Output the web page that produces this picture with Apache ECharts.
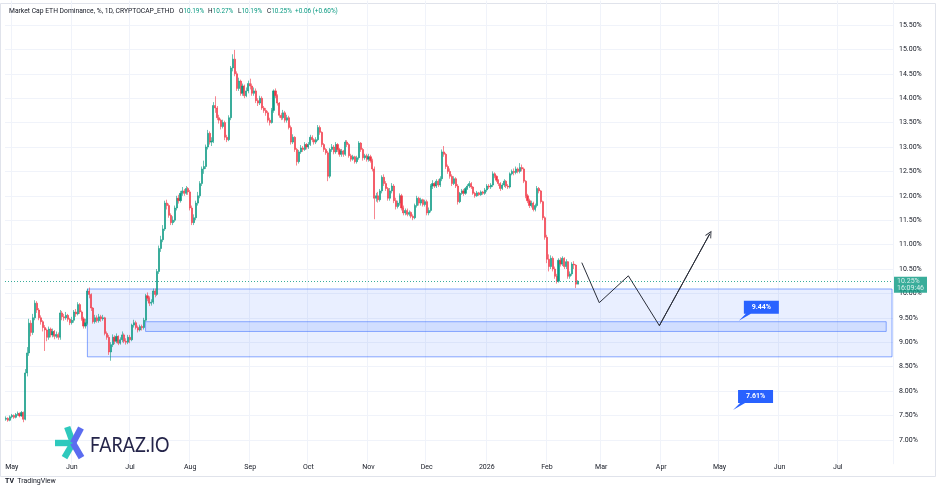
<!DOCTYPE html>
<html>
<head>
<meta charset="utf-8">
<title>Market Cap ETH Dominance</title>
<script src="https://cdn.jsdelivr.net/npm/echarts@6/dist/echarts.min.js"></script>
<style>
  html, body { margin: 0; padding: 0; background: #fff; }
  #chart { width: 936px; height: 492px; }
</style>
</head>
<body>
<div id="chart"></div>
<script>
// daily candles 2025-04-28 .. 2026-02-17, axis runs on to 2026-07-29
const firstDay = "2025-04-28";
const lastAxisDay = "2026-07-29";
const monthNames = ["Jan", "Feb", "Mar", "Apr", "May", "Jun", "Jul", "Aug", "Sep", "Oct", "Nov", "Dec"];

const openVals = [
  7.42, 7.44, 7.40,
  7.47, 7.50, 7.46, 7.52, 7.54, 7.49, 7.56, 7.42, 8.37, 8.78, 9.39, 9.20, 9.50, 9.80, 9.66, 9.50, 9.42, 9.30, 9.25, 9.10, 9.27, 9.15, 9.22, 9.12, 9.16, 9.10, 9.60, 9.52, 9.50, 9.55, 9.47,
  9.40, 9.45, 9.62, 9.58, 9.77, 9.62, 9.48, 9.33, 9.40, 10.05, 9.98, 9.70, 9.42, 9.50, 9.44, 9.52, 9.48, 9.50, 9.18, 9.10, 8.80, 8.95, 9.10, 9.02, 9.12, 8.98, 9.05, 9.15, 9.02, 9.00,
  9.10, 9.05, 9.35, 9.40, 9.30, 9.25, 9.32, 9.30, 9.45, 9.95, 9.90, 9.80, 9.82, 10.05, 9.98, 10.45, 10.92, 11.10, 11.32, 11.85, 11.80, 11.60, 11.45, 11.50, 11.75, 11.95, 11.90, 12.05, 12.10, 12.05, 12.15,
  12.08, 11.75, 11.45, 11.55, 11.85, 12.00, 12.25, 12.55, 12.60, 13.00, 13.28, 13.10, 13.12, 13.85, 13.80, 13.60, 13.55, 13.42, 13.50, 13.20, 13.15, 13.60, 14.62, 14.80, 14.50, 14.20, 14.35, 14.10, 14.25, 14.05, 14.15,
  14.30, 14.25, 14.10, 14.15, 13.95, 13.90, 14.00, 13.80, 13.75, 13.70, 13.55, 13.50, 13.75, 14.15, 14.05, 13.90, 13.65, 13.60, 13.70, 13.55, 13.60, 13.40, 13.10, 13.20, 12.95, 12.70, 12.90, 12.98, 12.95, 13.05,
  13.00, 13.05, 13.20, 13.15, 13.10, 13.15, 13.40, 13.30, 13.05, 12.95, 12.88, 12.40, 12.95, 13.00, 12.90, 13.05, 12.95, 12.85, 12.92, 12.85, 13.10, 13.05, 12.82, 12.75, 12.80, 12.70, 12.78, 13.08, 12.95, 12.78, 12.82,
  12.75, 12.80, 12.72, 12.55, 11.95, 12.00, 11.92, 12.10, 12.38, 12.25, 12.15, 11.95, 12.10, 12.20, 11.90, 11.78, 11.85, 12.00, 11.75, 11.65, 11.70, 11.62, 11.66, 11.58, 11.55, 11.80, 11.95, 11.85, 11.92, 11.82,
  11.88, 11.65, 11.70, 12.20, 12.25, 12.20, 12.30, 12.22, 12.35, 12.90, 12.85, 12.60, 12.50, 12.40, 12.25, 12.35, 12.20, 11.88, 12.05, 12.10, 12.05, 12.15, 12.20, 12.25, 12.18, 12.05, 12.00, 12.06, 12.02, 12.08, 12.05,
  12.12, 12.20, 12.18, 12.22, 12.45, 12.40, 12.32, 12.25, 12.15, 12.22, 12.30, 12.20, 12.18, 12.45, 12.50, 12.48, 12.55, 12.50, 12.58, 12.55, 12.30, 12.00, 11.90, 11.80, 11.85, 11.72, 11.80, 12.15, 12.10, 11.88, 11.55,
  11.15, 10.70, 10.55, 10.72, 10.50, 10.35, 10.25, 10.68, 10.60, 10.72, 10.55, 10.65, 10.35, 10.40, 10.60, 10.58, 10.19
];
const closeVals = [
  7.44, 7.40, 7.47,
  7.50, 7.46, 7.52, 7.54, 7.49, 7.56, 7.42, 8.37, 8.78, 9.39, 9.20, 9.50, 9.80, 9.66, 9.50, 9.42, 9.30, 9.25, 9.10, 9.27, 9.15, 9.22, 9.12, 9.16, 9.10, 9.60, 9.52, 9.50, 9.55, 9.47, 9.40,
  9.45, 9.62, 9.58, 9.77, 9.62, 9.48, 9.33, 9.40, 10.05, 9.98, 9.70, 9.42, 9.50, 9.44, 9.52, 9.48, 9.50, 9.18, 9.10, 8.80, 8.95, 9.10, 9.02, 9.12, 8.98, 9.05, 9.15, 9.02, 9.00, 9.10,
  9.05, 9.35, 9.40, 9.30, 9.25, 9.32, 9.30, 9.45, 9.95, 9.90, 9.80, 9.82, 10.05, 9.98, 10.45, 10.92, 11.10, 11.32, 11.85, 11.80, 11.60, 11.45, 11.50, 11.75, 11.95, 11.90, 12.05, 12.10, 12.05, 12.15, 12.08,
  11.75, 11.45, 11.55, 11.85, 12.00, 12.25, 12.55, 12.60, 13.00, 13.28, 13.10, 13.12, 13.85, 13.80, 13.60, 13.55, 13.42, 13.50, 13.20, 13.15, 13.60, 14.62, 14.80, 14.50, 14.20, 14.35, 14.10, 14.25, 14.05, 14.15, 14.30,
  14.25, 14.10, 14.15, 13.95, 13.90, 14.00, 13.80, 13.75, 13.70, 13.55, 13.50, 13.75, 14.15, 14.05, 13.90, 13.65, 13.60, 13.70, 13.55, 13.60, 13.40, 13.10, 13.20, 12.95, 12.70, 12.90, 12.98, 12.95, 13.05, 13.00,
  13.05, 13.20, 13.15, 13.10, 13.15, 13.40, 13.30, 13.05, 12.95, 12.88, 12.40, 12.95, 13.00, 12.90, 13.05, 12.95, 12.85, 12.92, 12.85, 13.10, 13.05, 12.82, 12.75, 12.80, 12.70, 12.78, 13.08, 12.95, 12.78, 12.82, 12.75,
  12.80, 12.72, 12.55, 11.95, 12.00, 11.92, 12.10, 12.38, 12.25, 12.15, 11.95, 12.10, 12.20, 11.90, 11.78, 11.85, 12.00, 11.75, 11.65, 11.70, 11.62, 11.66, 11.58, 11.55, 11.80, 11.95, 11.85, 11.92, 11.82, 11.88,
  11.65, 11.70, 12.20, 12.25, 12.20, 12.30, 12.22, 12.35, 12.90, 12.85, 12.60, 12.50, 12.40, 12.25, 12.35, 12.20, 11.88, 12.05, 12.10, 12.05, 12.15, 12.20, 12.25, 12.18, 12.05, 12.00, 12.06, 12.02, 12.08, 12.05, 12.12,
  12.20, 12.18, 12.22, 12.45, 12.40, 12.32, 12.25, 12.15, 12.22, 12.30, 12.20, 12.18, 12.45, 12.50, 12.48, 12.55, 12.50, 12.58, 12.55, 12.30, 12.00, 11.90, 11.80, 11.85, 11.72, 11.80, 12.15, 12.10, 11.88, 11.55, 11.15,
  10.70, 10.55, 10.72, 10.50, 10.35, 10.25, 10.68, 10.60, 10.72, 10.55, 10.65, 10.35, 10.40, 10.60, 10.58, 10.19, 10.25
];
const lowVals = [
  7.39, 7.37, 7.38,
  7.44, 7.43, 7.44, 7.49, 7.46, 7.47, 7.36, 7.40, 8.30, 8.72, 9.12, 9.15, 9.45, 9.60, 9.45, 9.36, 9.22, 8.82, 9.02, 9.05, 9.10, 9.10, 9.06, 9.08, 9.05, 9.05, 9.45, 9.44, 9.46, 9.42, 9.35,
  9.36, 9.40, 9.52, 9.55, 9.58, 9.44, 9.28, 9.28, 9.36, 9.90, 9.64, 9.38, 9.38, 9.40, 9.40, 9.42, 9.44, 9.14, 9.05, 8.74, 8.62, 8.90, 8.96, 8.98, 8.94, 8.95, 9.00, 8.98, 8.95, 8.96,
  8.98, 9.02, 9.30, 9.26, 9.20, 9.22, 9.24, 9.26, 9.42, 9.84, 9.74, 9.75, 9.78, 9.92, 9.95, 10.40, 10.85, 11.05, 11.28, 11.72, 11.55, 11.40, 11.40, 11.46, 11.70, 11.84, 11.86, 12.00, 12.00, 12.02, 12.02,
  11.70, 11.40, 11.40, 11.50, 11.80, 11.95, 12.20, 12.45, 12.55, 12.95, 13.05, 13.02, 13.08, 13.70, 13.55, 13.48, 13.36, 13.38, 13.14, 13.10, 13.12, 13.55, 14.55, 14.45, 14.15, 14.15, 14.05, 14.05, 14.00, 14.02, 14.10,
  14.18, 14.05, 14.05, 13.90, 13.84, 13.86, 13.76, 13.70, 13.64, 13.50, 13.44, 13.48, 13.70, 14.00, 13.85, 13.60, 13.55, 13.56, 13.50, 13.50, 13.36, 13.05, 13.06, 12.90, 12.62, 12.66, 12.86, 12.90, 12.92, 12.95,
  12.96, 13.02, 13.10, 13.05, 13.06, 13.12, 13.25, 13.00, 12.90, 12.84, 12.30, 12.36, 12.90, 12.85, 12.86, 12.90, 12.80, 12.80, 12.80, 12.82, 13.00, 12.78, 12.70, 12.72, 12.66, 12.66, 12.74, 12.90, 12.72, 12.74, 12.70,
  12.70, 12.68, 12.50, 11.52, 11.88, 11.86, 11.88, 12.05, 12.20, 12.10, 11.90, 11.90, 12.05, 11.85, 11.72, 11.74, 11.80, 11.70, 11.60, 11.60, 11.58, 11.58, 11.54, 11.50, 11.52, 11.76, 11.80, 11.80, 11.78, 11.78,
  11.60, 11.60, 11.66, 12.14, 12.16, 12.16, 12.18, 12.18, 12.30, 12.80, 12.55, 12.45, 12.35, 12.20, 12.22, 12.16, 11.82, 11.85, 12.02, 12.00, 12.02, 12.12, 12.16, 12.14, 12.02, 11.96, 11.98, 12.00, 12.00, 12.02, 12.02,
  12.08, 12.14, 12.14, 12.18, 12.36, 12.28, 12.20, 12.10, 12.12, 12.18, 12.16, 12.14, 12.15, 12.42, 12.42, 12.44, 12.46, 12.46, 12.50, 12.26, 11.95, 11.85, 11.75, 11.76, 11.68, 11.68, 11.76, 12.05, 11.84, 11.50, 11.10,
  10.62, 10.45, 10.50, 10.45, 10.30, 10.20, 10.22, 10.55, 10.56, 10.50, 10.50, 10.30, 10.30, 10.36, 10.50, 10.11, 10.19
];
const highVals = [
  7.48, 7.46, 7.50,
  7.53, 7.52, 7.55, 7.58, 7.56, 7.59, 7.58, 8.45, 8.90, 9.48, 9.45, 9.58, 9.86, 9.84, 9.70, 9.55, 9.45, 9.35, 9.28, 9.32, 9.30, 9.28, 9.25, 9.22, 9.20, 9.66, 9.64, 9.58, 9.62, 9.58, 9.50,
  9.52, 9.66, 9.68, 9.82, 9.80, 9.65, 9.52, 9.48, 10.10, 10.12, 10.00, 9.72, 9.56, 9.55, 9.58, 9.56, 9.56, 9.52, 9.22, 9.15, 9.00, 9.16, 9.14, 9.18, 9.14, 9.10, 9.22, 9.18, 9.08, 9.15,
  9.15, 9.38, 9.46, 9.44, 9.34, 9.36, 9.36, 9.50, 9.99, 10.02, 9.94, 9.88, 10.10, 10.10, 10.50, 10.98, 11.18, 11.40, 11.90, 11.92, 11.84, 11.64, 11.58, 11.80, 12.00, 12.02, 12.10, 12.18, 12.14, 12.20, 12.18,
  12.12, 11.80, 11.62, 11.90, 12.08, 12.30, 12.60, 12.72, 13.05, 13.35, 13.32, 13.20, 13.92, 14.04, 13.84, 13.66, 13.58, 13.56, 13.54, 13.25, 13.65, 14.66, 14.90, 14.99, 14.55, 14.42, 14.38, 14.30, 14.28, 14.22, 14.36,
  14.40, 14.30, 14.22, 14.20, 14.00, 14.05, 14.04, 13.84, 13.80, 13.74, 13.60, 13.80, 14.18, 14.20, 14.08, 13.92, 13.70, 13.76, 13.74, 13.66, 13.64, 13.44, 13.26, 13.22, 12.98, 12.94, 13.04, 13.02, 13.10, 13.08,
  13.10, 13.25, 13.24, 13.18, 13.20, 13.45, 13.44, 13.32, 13.08, 12.98, 12.92, 12.98, 13.06, 13.04, 13.10, 13.08, 12.98, 12.96, 12.94, 13.14, 13.14, 13.08, 12.86, 12.84, 12.82, 12.82, 13.12, 13.10, 12.98, 12.86, 12.86,
  12.86, 12.84, 12.76, 12.60, 12.06, 12.08, 12.14, 12.42, 12.44, 12.30, 12.18, 12.16, 12.26, 12.24, 11.96, 11.90, 12.05, 12.04, 11.80, 11.74, 11.74, 11.70, 11.68, 11.62, 11.84, 12.00, 11.98, 11.96, 11.94, 11.92,
  11.92, 11.76, 12.24, 12.32, 12.28, 12.34, 12.34, 12.40, 12.95, 13.02, 12.88, 12.64, 12.56, 12.44, 12.40, 12.38, 12.24, 12.08, 12.14, 12.14, 12.18, 12.24, 12.30, 12.28, 12.20, 12.08, 12.10, 12.08, 12.11, 12.10, 12.16,
  12.24, 12.24, 12.26, 12.50, 12.48, 12.42, 12.34, 12.28, 12.26, 12.34, 12.32, 12.24, 12.48, 12.54, 12.56, 12.60, 12.58, 12.67, 12.64, 12.58, 12.32, 12.04, 11.94, 11.90, 11.88, 11.84, 12.20, 12.18, 12.12, 11.90, 11.58,
  11.20, 10.80, 10.78, 10.76, 10.55, 10.40, 10.72, 10.74, 10.76, 10.74, 10.70, 10.66, 10.45, 10.64, 10.66, 10.60, 10.27
];

// projected path drawn on the chart
const pathDates = ["2026-02-19", "2026-02-28", "2026-03-15", "2026-03-31", "2026-04-26"];
const pathVals = [10.63, 9.81, 10.36, 9.34, 11.22];

// zones
const zoneOuter = { from: "2025-06-09", to: "2026-07-29", top: 10.09, bottom: 8.70 };
const zoneInner = { from: "2025-07-09", to: "2026-07-26", top: 9.42, bottom: 9.22 };

// price notes
const noteDates = ["2026-05-11", "2026-05-08"];
const noteVals = [9.44, 7.61];

const lastPrice = 10.25;
const countdown = "16:09:46";
const headerTitle = "Market Cap ETH Dominance, %, 1D, CRYPTOCAP_ETHD";
const headerChange = "+0.06 (+0.60%)";

const upColor = "#089981";
const downColor = "#f23645";
const textColor = "#131722";
const gridColor = "#f0f3fa";
const font = "Roboto, 'Noto Sans', sans-serif";

function buildDays(from, to) {
  const out = [];
  const d = new Date(from + "T00:00:00Z");
  const end = new Date(to + "T00:00:00Z");
  while (d <= end) {
    out.push(d.toISOString().slice(0, 10));
    d.setUTCDate(d.getUTCDate() + 1);
  }
  return out;
}
const days = buildDays(firstDay, lastAxisDay);
const candles = closeVals.map((c, i) => [openVals[i], c, lowVals[i], highVals[i]]);
const isMonthStart = (idx, v) => v.slice(8) === "01";

const n = closeVals.length - 1;
const pct = (v) => v.toFixed(2) + "%";

// header pieces (key, value, x)
const headerParts = [
  ["O", pct(openVals[n]), 179],
  ["H", pct(highVals[n]), 208],
  ["L", pct(lowVals[n]), 238],
  ["C", pct(closeVals[n]), 267],
  ["", headerChange, 295],
];
const headerRich = {
  h: { fontSize: 6.75, fontFamily: font, fill: textColor, color: textColor },
  t: { fontSize: 6.4, fontFamily: font, fill: textColor, color: textColor },
  v: { fontSize: 6.4, fontFamily: font, fill: upColor, color: upColor },
};

const chart = echarts.init(document.getElementById("chart"));
const option = {
  animation: false,
  backgroundColor: "#ffffff",
  grid: { left: 5, right: 43, top: 0.6, bottom: 27.8 },
  xAxis: {
    type: "category",
    data: days,
    boundaryGap: true,
    axisLine: { show: false },
    axisTick: { show: false },
    axisLabel: {
      interval: isMonthStart,
      color: textColor,
      fontSize: 7,
      fontFamily: font,
      margin: 0,
      formatter: (v) => (v.slice(5, 7) === "01" ? v.slice(0, 4) : monthNames[+v.slice(5, 7) - 1]),
    },
    splitLine: { show: true, interval: isMonthStart, lineStyle: { color: gridColor, width: 1 } },
  },
  yAxis: {
    type: "value",
    position: "right",
    min: 6.5,
    max: 16,
    interval: 0.5,
    axisLine: { show: false },
    axisTick: { show: false },
    axisLabel: {
      color: textColor,
      fontSize: 7,
      fontFamily: font,
      margin: 6,
      formatter: (v) => (v < 6.9 || v > 15.6 ? "" : pct(v)),
    },
    splitLine: { show: true, showMinLine: false, showMaxLine: false, lineStyle: { color: gridColor, width: 1 } },
  },
  series: [
    {
      type: "candlestick",
      data: candles,
      barWidth: 1.6,
      large: false,
      itemStyle: {
        color: upColor,
        color0: downColor,
        borderColor: upColor,
        borderColor0: downColor,
        borderWidth: 0.6,
      },
      markArea: {
        silent: true,
        data: [
          [
            {
              coord: [zoneOuter.from, zoneOuter.top],
              itemStyle: { color: "rgba(41,98,255,0.1)", borderColor: "rgba(41,98,255,0.55)", borderWidth: 1 },
            },
            { coord: [zoneOuter.to, zoneOuter.bottom] },
          ],
          [
            {
              coord: [zoneInner.from, zoneInner.top],
              itemStyle: { color: "rgba(41,98,255,0.12)", borderColor: "rgba(41,98,255,0.5)", borderWidth: 1 },
            },
            { coord: [zoneInner.to, zoneInner.bottom] },
          ],
        ],
      },
      markLine: {
        silent: true,
        symbol: "none",
        lineStyle: { color: upColor, type: [1, 2], width: 1, opacity: 0.8 },
        label: {
          position: "end",
          distance: 1,
          offset: [0, 3.5],
          formatter: pct(lastPrice) + "\n" + countdown,
          backgroundColor: upColor,
          color: "#fff",
          fontSize: 7,
          lineHeight: 7,
          fontFamily: font,
          padding: [1, 3, 1, 3],
          align: "left",
        },
        data: [{ yAxis: lastPrice }],
      },
      markPoint: {
        silent: true,
        symbol: "path://M5,0 L40,0 L40,13 L12,13 L0,20 L7,13 L5,13 Z",
        symbolSize: [40, 20],
        symbolKeepAspect: false,
        symbolOffset: [20, -10],
        itemStyle: { color: "#2962ff" },
        label: {
          show: true,
          position: "inside",
          offset: [2.5, -3.5],
          color: "#fff",
          fontSize: 7,
          fontWeight: "bold",
          fontFamily: font,
          formatter: (p) => pct(p.value),
        },
        data: noteDates.map((d, i) => ({ coord: [d, noteVals[i]], value: noteVals[i] })),
      },
    },
    {
      type: "line",
      data: pathDates.map((d, i) => [d, pathVals[i]]),
      symbol: "none",
      silent: true,
      lineStyle: { color: "#2a2e39", width: 1 },
      markLine: {
        silent: true,
        symbol: ["none", "path://M0,10 L5,0 L10,10 L8.6,10 L5,2.8 L1.4,10 Z"],
        symbolSize: [7, 7],
        lineStyle: { color: "#2a2e39", width: 1, type: "solid" },
        label: { show: false },
        data: [
          [
            { coord: [pathDates[3], pathVals[3]] },
            { coord: [pathDates[4], pathVals[4]] },
          ],
        ],
      },
    },
  ],
  graphic: [
    {
      type: "rect",
      silent: true,
      z: -10,
      shape: { x: 0.5, y: 3.5, width: 935, height: 473 },
      style: { fill: "none", stroke: "#e0e3eb", lineWidth: 1 },
    },
    {
      type: "text",
      x: 9,
      y: 11,
      silent: true,
      z: 100,
      style: { text: "{h|" + headerTitle + "}", verticalAlign: "middle", rich: headerRich },
    },
    ...headerParts.map(([k, v, x]) => ({
      type: "text",
      x: x,
      y: 11,
      silent: true,
      z: 100,
      style: {
        text: (k ? "{t|" + k + "}" : "") + "{v|" + v + "}",
        verticalAlign: "middle",
        rich: headerRich,
      },
    })),
    // FARAZ.IO watermark
    { type: "rect", silent: true, z: 100, x: 73, y: 443, rotation: Math.PI, shape: { x: 0, y: -3.2, width: 18, height: 6.4 }, style: { fill: "#2ec9bd" } },
    { type: "rect", silent: true, z: 100, x: 73, y: 443, rotation: (110 * Math.PI) / 180, shape: { x: 0, y: -3.2, width: 17, height: 6.4 }, style: { fill: "#2ec9bd" } },
    { type: "rect", silent: true, z: 100, x: 73, y: 443, rotation: (240 * Math.PI) / 180, shape: { x: 0, y: -3.2, width: 17, height: 6.4 }, style: { fill: "#2ec9bd" } },
    { type: "rect", silent: true, z: 101, x: 73, y: 443, rotation: (62 * Math.PI) / 180, shape: { x: 0, y: -3.2, width: 17, height: 6.4 }, style: { fill: "#5b6cf0" } },
    { type: "rect", silent: true, z: 101, x: 73, y: 443, rotation: (300 * Math.PI) / 180, shape: { x: 0, y: -3.2, width: 17, height: 6.4 }, style: { fill: "#5b6cf0" } },
    {
      type: "text",
      silent: true,
      z: 100,
      x: 90,
      y: 445.5,
      scaleX: 0.86,
      style: { text: "FARAZ.IO", fontSize: 21, fontFamily: "Lato, 'Noto Sans', sans-serif", fill: "#25254a", verticalAlign: "middle" },
    },
    // TradingView footer
    {
      type: "text",
      silent: true,
      z: 100,
      x: 5,
      y: 481,
      style: {
        text: "{l|TV} {n|TradingView}",
        verticalAlign: "middle",
        rich: {
          l: { fontSize: 7, fontWeight: "bold", fontFamily: font, fill: textColor, color: textColor },
          n: { fontSize: 7, fontFamily: font, fill: textColor, color: textColor },
        },
      },
    },
  ],
};
chart.setOption(option);
</script>
</body>
</html>
